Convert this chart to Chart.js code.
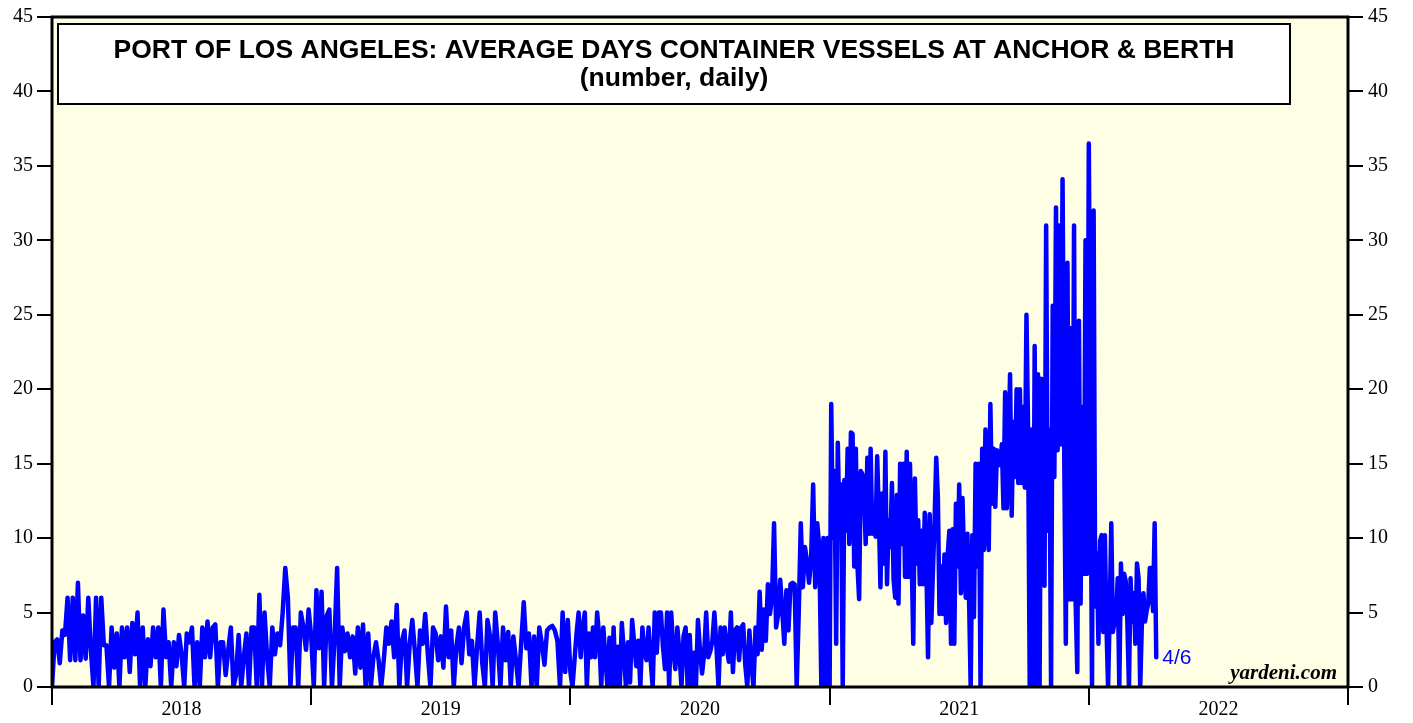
<!DOCTYPE html>
<html>
<head>
<meta charset="utf-8">
<script src="https://cdn.jsdelivr.net/npm/chart.js@4.4.1/dist/chart.umd.min.js"></script>
<style>
  html, body { margin: 0; padding: 0; background: #ffffff; }
  #wrap { width: 1413px; height: 723px; position: relative; }
</style>
</head>
<body>
<div id="wrap"><canvas id="portChart"></canvas></div>
<script>
// Chart data (average days, container vessels at anchor & berth)
const titleLine1 = "PORT OF LOS ANGELES: AVERAGE DAYS CONTAINER VESSELS AT ANCHOR & BERTH";
const titleLine2 = "(number, daily)";
const yearLabels = [2018, 2019, 2020, 2021, 2022];
const yTicks = [0, 5, 10, 15, 20, 25, 30, 35, 40, 45];
const lastLabel = "4/6";
const lastDayOfYear = 96; // April 6, 2022

const values2018 = [0, 3, 3.2, 1.6, 3.8, 3.5, 6, 1.8, 6, 1.8, 7, 1.8, 4.8, 1.9, 6, 2.5, 0, 6, 0, 6,
  2.8, 2.8, 0, 4, 1.3, 3.6, 0, 4, 2, 4, 1, 4.3, 2.2, 5, 0, 4, 0, 3.2, 1.4, 4,
  2, 4, 0, 5.2, 2, 3, 0, 3, 1.4, 3.5, 2.2, 0, 3.6, 3, 4, 0, 3, 0, 4, 2,
  4.4, 2, 4, 4.2, 0, 3, 3, 0.8, 2.5, 4, 0, 0.8, 3.5, 0, 2, 3.6, 0, 4, 4, 0,
  6.2, 0, 5, 2, 0, 4, 2.2, 3.6, 2.8, 5, 8, 6, 0, 4, 4, 0, 5, 4, 2.5, 5.2];

const values2019 = [3.4, 0, 6.5, 2.6, 6.4, 0, 4.8, 5.2, 0, 3.2, 8, 0, 4, 2.4, 3.6, 2, 3.4, 0.9, 4, 1.3,
  4.2, 0, 3.6, 0, 2, 3, 1.8, 0, 1.8, 4, 2.9, 4.4, 2, 5.5, 0, 3.1, 3.8, 0, 2.9, 4.5,
  2.4, 0, 3.8, 2.9, 4.9, 2.2, 0, 4, 3.6, 1.8, 3.4, 1.3, 5.4, 2, 3.8, 0, 2.7, 4, 1.6, 4,
  5, 2.2, 3.1, 0, 2.7, 5, 1.6, 0, 4.5, 3.4, 0, 5, 2.9, 0, 4, 1.8, 3.7, 0, 3.4, 1.8,
  0, 2.9, 5.7, 2.6, 3.6, 0, 3.4, 0, 4, 2.9, 1.5, 3.8, 4, 4.1, 3.8, 3.1, 0, 5, 1, 4.5];

const values2020 = [1, 0, 1.8, 3.6, 5, 2, 4, 5, 0, 3.6, 2, 4, 2, 5, 3.4, 0, 4, 2, 0, 3.3,
  0, 4, 0, 2.7, 0, 4.3, 2.3, 0, 3, 0.3, 4.5, 3, 1.4, 3.1, 0, 4, 2.3, 1.8, 4, 1.8,
  0, 5, 2.3, 5, 5, 2.7, 1.2, 5, 0, 5, 2.5, 1.2, 4, 2.3, 0, 3.4, 4, 0, 3.5, 0,
  2.3, 0, 4.5, 2.5, 0.9, 2.2, 5, 2, 2.4, 3.1, 5, 2.7, 0, 4, 2.2, 4, 2.7, 1.7, 5, 1,
  3.8, 4, 1.8, 4, 4.2, 1.5, 0, 3.8, 1.5, 0, 4, 2.2, 6.4, 2.5, 5.2, 3.1, 6.9, 4.9, 6, 11,
  4, 4.9, 7.2, 5.1, 2.9, 6.5, 3.8, 6.9, 7, 6.9, 0, 5, 11, 6.7, 9.4, 8.5, 7, 8.5, 13.6, 6.7,
  11, 9.4, 0, 10, 0, 10];

const values2021 = [0, 19, 10, 14.5, 2.9, 16.4, 10.9, 13.6, 0, 13.9, 10.5, 16, 9.6, 17.1, 17, 8.1, 16, 8.1, 5.9, 14.5,
  14.3, 13, 9.6, 15.4, 10.3, 16, 10.3, 12.1, 10.1, 15.5, 11.6, 6.7, 13, 8.3, 15.8, 6.9, 11.2, 9.4, 13.7, 7.2,
  6, 12.9, 5.6, 15, 9.6, 15, 7.4, 15.8, 7.4, 15, 9, 2.9, 14, 8.3, 11.2, 6.9, 10.5, 6.9, 11.7, 8.1,
  2, 11.6, 4.3, 7.8, 11.2, 15.4, 12.7, 4.9, 8.1, 4.9, 8.9, 4.3, 8.9, 10.5, 2.9, 10.6, 2.9, 12.3, 8.1, 13.6,
  6.3, 12.7, 8.3, 6, 10.3, 6, 0, 10.2, 4.7, 15, 8.1, 15, 0, 16, 9.2, 17.3, 11, 9.2, 19, 12.3,
  16, 12.1, 15.9, 15.4, 14.9, 16.3, 12, 19.8, 12, 14.9, 21, 11.5, 17.8, 14.1, 20, 13.7, 20, 13.7, 18.8, 13.4,
  25, 17.1, 0, 17.3, 0, 22.9, 0, 21, 0, 20.7, 11.7, 6.8, 31, 10.5, 17.3, 0, 25.6, 14.1, 32.2, 15.9,
  31, 16.3, 34.1, 15.9, 2.9, 28.5, 5.9, 24.1, 5.9, 31, 5.6, 1, 24.6, 5.6, 18.8, 7.6, 30, 7.6];

const values2022 = [36.5, 18, 0, 32, 5.4, 9, 2.9, 9.8, 10.2, 3.7, 10.2, 4.1, 0, 4.9, 11, 3.7, 4.4, 4.6, 7.3, 0,
  8.3, 4.9, 7.6, 7.1, 4.4, 0, 7.3, 4.4, 6.3, 2.9, 8.3, 7.3, 0, 4.1, 6.3, 4.4, 5.1, 5.6, 8, 8,
  5.1, 11, 2];

// Spread each year's readings over that year (2022 ends on April 6)
const yearValues = [values2018, values2019, values2020, values2021, values2022];
const points = [];
yearValues.forEach((vals, k) => {
  const year = yearLabels[k];
  const isLast = k === yearValues.length - 1;
  const span = isLast ? (lastDayOfYear - 1) / 365 : 1;
  const steps = isLast ? vals.length - 1 : vals.length;
  vals.forEach((v, i) => points.push({ x: year + (i * span) / steps, y: v }));
});

const FRAME = { left: 52, top: 15, right: 1348, bottom: 687 };

// Yellow plot background, frame, title box and notes
const decorPlugin = {
  id: "decor",
  beforeDatasetsDraw(chart) {
    const { ctx, chartArea: a } = chart;
    ctx.save();
    ctx.fillStyle = "#fefee4";
    ctx.fillRect(a.left, a.top, a.right - a.left, a.bottom - a.top);
    ctx.restore();
  },
  afterDatasetsDraw(chart) {
    const { ctx, chartArea: a } = chart;
    ctx.save();
    // frame
    ctx.strokeStyle = "#000";
    ctx.lineWidth = 3;
    ctx.strokeRect(a.left, a.top, a.right - a.left, a.bottom - a.top);

    // title box
    ctx.fillStyle = "#fff";
    ctx.fillRect(a.left + 6, a.top + 7, 1232, 80);
    ctx.lineWidth = 2;
    ctx.strokeRect(a.left + 6, a.top + 7, 1232, 80);
    ctx.fillStyle = "#000";
    ctx.font = "bold 26.5px 'Liberation Sans', Arial, sans-serif";
    ctx.textAlign = "center";
    ctx.textBaseline = "middle";
    const cx = a.left + 6 + 1232 / 2;
    ctx.fillText(titleLine1, cx, a.top + 34);
    ctx.fillText(titleLine2, cx, a.top + 62);

    // source
    ctx.font = "italic bold 21px 'Liberation Serif', 'Times New Roman', serif";
    ctx.textAlign = "right";
    ctx.textBaseline = "alphabetic";
    ctx.fillText("yardeni.com", 1337, 679);

    // last date note
    const xs = chart.scales.x;
    const ys = chart.scales.y;
    const last = points[points.length - 1];
    ctx.fillStyle = "#0000ff";
    ctx.font = "21px 'Liberation Sans', Arial, sans-serif";
    ctx.textAlign = "left";
    ctx.textBaseline = "middle";
    ctx.fillText(lastLabel, xs.getPixelForValue(last.x) + 6, ys.getPixelForValue(last.y) + 1);
    ctx.restore();
  }
};

const serifTicks = { family: "'Liberation Serif', 'Times New Roman', serif", size: 20 };

new Chart(document.getElementById("portChart"), {
  type: "line",
  data: {
    datasets: [{
      data: points,
      borderColor: "#0000ff",
      borderWidth: 4.5,
      pointRadius: 0,
      tension: 0,
      fill: false,
      borderJoinStyle: "round",
      borderCapStyle: "round"
    }]
  },
  options: {
    responsive: true,
    maintainAspectRatio: false,
    animation: false,
    parsing: false,
    layout: { padding: { top: FRAME.top, left: 0, right: 0, bottom: 0 } },
    plugins: { legend: { display: false }, tooltip: { enabled: false } },
    scales: {
      x: {
        type: "linear",
        min: 2018,
        max: 2023,
        afterFit: (s) => { s.height = 723 - FRAME.bottom; },
        border: { display: false },
        grid: {
          drawOnChartArea: false,
          tickLength: 18,
          lineWidth: 2,
          color: (c) => (c.tick && c.tick.value % 1 === 0 ? "#000" : "rgba(0,0,0,0)")
        },
        ticks: {
          stepSize: 0.5,
          autoSkip: false,
          maxRotation: 0,
          padding: -7,
          color: "#000",
          font: serifTicks,
          callback: (v) => (v % 1 === 0.5 ? String(Math.floor(v)) : "")
        }
      },
      y: {
        position: "left",
        min: 0,
        max: 45,
        afterFit: (s) => { s.width = FRAME.left; },
        border: { display: false },
        grid: { drawOnChartArea: false, tickLength: 15, lineWidth: 2, color: "#000" },
        ticks: { stepSize: 5, padding: 4, color: "#000", font: serifTicks,
          callback: (v) => (yTicks.includes(v) ? String(v) : "") }
      },
      y2: {
        position: "right",
        min: 0,
        max: 45,
        afterFit: (s) => { s.width = 1413 - FRAME.right; },
        border: { display: false },
        grid: { drawOnChartArea: false, tickLength: 15, lineWidth: 2, color: "#000" },
        ticks: { stepSize: 5, padding: 5, color: "#000", font: serifTicks,
          callback: (v) => (yTicks.includes(v) ? String(v) : "") }
      }
    }
  },
  plugins: [decorPlugin]
});
</script>
</body>
</html>
